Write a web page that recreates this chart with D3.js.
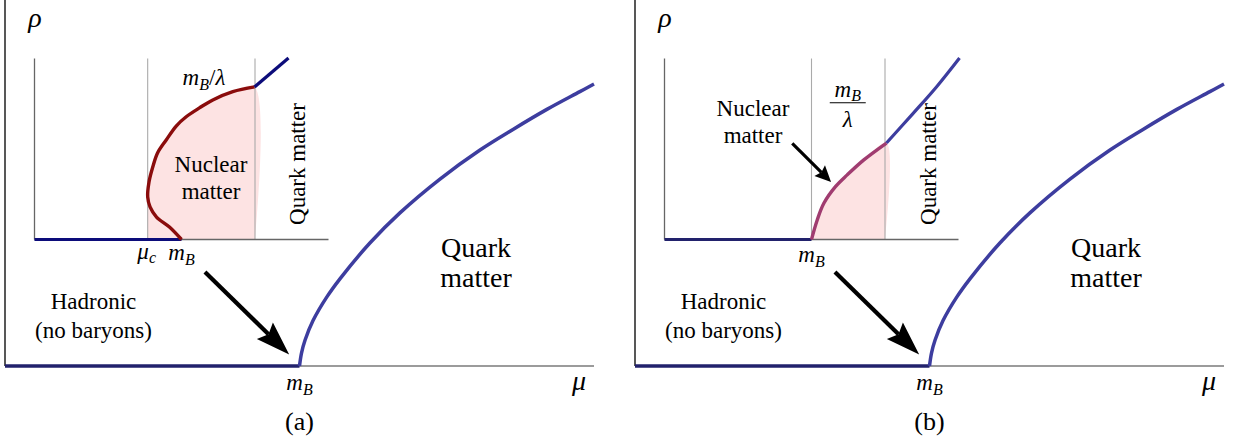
<!DOCTYPE html>
<html>
<head>
<meta charset="utf-8">
<script src="https://cdn.jsdelivr.net/npm/d3@7"></script>
<style>
  html, body { margin: 0; padding: 0; background: #fff; }
  svg { display: block; }
</style>
</head>
<body>
<svg id="chart" width="1233" height="439"></svg>
<script>
// Chemical potential mu is measured in units of the baryon mass m_B.
const MB = 1.0;          // onset of baryon density, m_B
const MU_C = 0.77;       // first-order nuclear onset mu_c (panel a)
const MU_LAMBDA = 1.5;   // m_B / lambda, end of the nuclear window

// Quark-matter density above m_B (main plots)
const quarkMu  = [1.0, 1.0068, 1.019, 1.046, 1.093, 1.138, 1.239, 1.341, 1.477, 1.613, 1.725, 1.840, 1.952, 2.0];
const quarkRho = [0.0, 0.046, 0.092, 0.161, 0.245, 0.310, 0.436, 0.543, 0.663, 0.766, 0.839, 0.910, 0.973, 1.0];

// Inset (a): back-bending nuclear branch, then quark branch
const nuclearAMu  = [1.0, 0.918, 0.830, 0.786, 0.770, 0.779, 0.805, 0.837, 0.896, 0.964, 1.032, 1.122, 1.213, 1.349, 1.497];
const nuclearARho = [0.0, 0.069, 0.124, 0.180, 0.235, 0.318, 0.402, 0.478, 0.550, 0.627, 0.678, 0.727, 0.771, 0.817, 0.843];
const quarkAMu  = [1.497, 1.728];
const quarkARho = [0.843, 1.003];

// Inset (b): monotonic nuclear branch, then quark branch
const nuclearBMu  = [1.0, 1.039, 1.084, 1.163, 1.243, 1.356, 1.510];
const nuclearBRho = [0.0, 0.108, 0.200, 0.292, 0.357, 0.440, 0.533];
const quarkBMu  = [1.510, 1.687, 1.850, 2.007];
const quarkBRho = [0.533, 0.693, 0.843, 1.003];

// Text
const panelLabels   = ["(a)", "(b)"];
const hadronicLines = ["Hadronic", "(no baryons)"];
const quarkLines    = ["Quark", "matter"];
const nuclearLines  = ["Nuclear", "matter"];
const insetQuark    = "Quark matter";

// Arrows: [mu0, rho0, mu1, rho1]
const mainArrow   = [0.679, 0.333, 0.965, 0.041];
const insetArrowB = [0.869, 0.531, 1.133, 0.318];

const zip = (a, b) => a.map((v, i) => [v, b[i]]);

const svg = d3.select("#chart");
const PANEL_DX = 630;
const SERIF = '"Liberation Serif"';

const NAVY_DARK = "#22226c";
const NAVY = "#0c0c7a";
const BLUE = "#3d3d9f";
const RED = "#8a0c0c";
const PURPLE = "#a03c70";
const PINK = "#fde3e3";

function txt(g) {
  return g.append("text").style("font-family", SERIF).attr("fill", "#000");
}

function mathM(t, size, subSize) {
  t.append("tspan").attr("font-style", "italic").text("m");
  t.append("tspan").attr("font-style", "italic").attr("font-size", subSize).attr("dy", size * 0.2).text("B");
}

function drawArrow(g, x, y, a, headLen, headHalf, shaftW) {
  const x0 = x(a[0]), y0 = y(a[1]), x1 = x(a[2]), y1 = y(a[3]);
  const dx = x1 - x0, dy = y1 - y0, L = Math.hypot(dx, dy);
  const ux = dx / L, uy = dy / L, px = -uy, py = ux;
  const bx = x1 - ux * headLen, by = y1 - uy * headLen;
  const nx = x1 - ux * headLen * 0.85, ny = y1 - uy * headLen * 0.85;
  g.append("line")
    .attr("x1", x0).attr("y1", y0).attr("x2", nx).attr("y2", ny)
    .attr("stroke", "#000").attr("stroke-width", shaftW);
  g.append("path")
    .attr("d", `M${x1},${y1} L${bx + px * headHalf},${by + py * headHalf} L${nx},${ny} L${bx - px * headHalf},${by - py * headHalf} Z`)
    .attr("fill", "#000");
}

function drawPanel(idx) {
  const g = svg.append("g").attr("transform", `translate(${idx * PANEL_DX},0)`);

  // ---- main axes ----
  const x = d3.scaleLinear().domain([0, 2]).range([5, 594]);
  const y = d3.scaleLinear().domain([0, 1]).range([366, 84]);

  g.append("line").attr("x1", x(0)).attr("x2", x(2)).attr("y1", y(0)).attr("y2", y(0))
    .attr("stroke", "#7a7a7a").attr("stroke-width", 1.5);
  g.append("line").attr("x1", x(0)).attr("x2", x(0)).attr("y1", y(0)).attr("y2", y(1.3))
    .attr("stroke", "#111").attr("stroke-width", 1.4);

  // hadronic phase: zero baryon density up to m_B
  g.append("line").attr("x1", x(0)).attr("x2", x(MB)).attr("y1", y(0)).attr("y2", y(0))
    .attr("stroke", NAVY_DARK).attr("stroke-width", 3.5);

  const mainLine = d3.line().x(d => x(d[0])).y(d => y(d[1])).curve(d3.curveCatmullRom.alpha(0.5));
  g.append("path").attr("d", mainLine(zip(quarkMu, quarkRho)))
    .attr("fill", "none").attr("stroke", BLUE).attr("stroke-width", 3.5);

  // main labels
  txt(g).attr("x", 35).attr("y", 27).attr("text-anchor", "middle")
    .attr("font-size", 28).attr("font-style", "italic").text("ρ");
  txt(g).attr("x", x(2) - 15).attr("y", 390).attr("text-anchor", "middle")
    .attr("font-size", 28).attr("font-style", "italic").text("μ");
  const mbT = txt(g).attr("x", x(MB)).attr("y", 390).attr("text-anchor", "middle").attr("font-size", 23);
  mathM(mbT, 23, 16);
  txt(g).attr("x", x(MB)).attr("y", 430).attr("text-anchor", "middle")
    .attr("font-size", 26).text(panelLabels[idx]);

  hadronicLines.forEach((d, i) => {
    txt(g).attr("x", 93.5).attr("y", 309 + i * 28.5).attr("text-anchor", "middle")
      .attr("font-size", 23).text(d);
  });
  quarkLines.forEach((d, i) => {
    txt(g).attr("x", 476).attr("y", 256.5 + i * 30).attr("text-anchor", "middle")
      .attr("font-size", 28).text(d);
  });

  drawArrow(g, x, y, mainArrow, 34, 11.5, 4.2);

  // ---- inset ----
  const xi = d3.scaleLinear().domain([0, 2]).range([34.5, 328.5]);
  const yi = d3.scaleLinear().domain([0, 1]).range([239.5, 58.5]);
  const insetLine = d3.line().x(d => xi(d[0])).y(d => yi(d[1])).curve(d3.curveCatmullRom.alpha(0.5));

  const nucMu  = idx === 0 ? nuclearAMu : nuclearBMu;
  const nucRho = idx === 0 ? nuclearARho : nuclearBRho;
  const qMu  = idx === 0 ? quarkAMu : quarkBMu;
  const qRho = idx === 0 ? quarkARho : quarkBRho;
  const onset = idx === 0 ? MU_C : MB;

  // nuclear-matter region
  let pts = zip(nucMu, nucRho);
  if (idx === 0) {
    const iMin = d3.minIndex(nucMu);
    pts = [[onset, 0]].concat(pts.slice(iMin));
  }
  pts = pts.concat([[MU_LAMBDA, 0]]);
  g.append("path").attr("d", insetLine(pts)).attr("fill", PINK).attr("stroke", "none");

  // guide lines at onset and m_B/lambda
  [onset, MU_LAMBDA].forEach(m => {
    g.append("line").attr("x1", xi(m)).attr("x2", xi(m)).attr("y1", yi(0)).attr("y2", yi(1))
      .attr("stroke", "#aaaaaa").attr("stroke-width", 1.1);
  });

  // inset axes
  g.append("line").attr("x1", xi(0)).attr("x2", xi(2)).attr("y1", yi(0)).attr("y2", yi(0))
    .attr("stroke", "#666").attr("stroke-width", 1.3);
  g.append("line").attr("x1", xi(0)).attr("x2", xi(0)).attr("y1", yi(0)).attr("y2", yi(1))
    .attr("stroke", "#666").attr("stroke-width", 1.3);

  g.append("line").attr("x1", xi(0)).attr("x2", xi(MB)).attr("y1", yi(0)).attr("y2", yi(0))
    .attr("stroke", idx === 0 ? NAVY : NAVY_DARK).attr("stroke-width", 3.2);

  g.append("path").attr("d", insetLine(zip(nucMu, nucRho)))
    .attr("fill", "none").attr("stroke", idx === 0 ? RED : PURPLE).attr("stroke-width", 3.4);
  g.append("path").attr("d", insetLine(zip(qMu, qRho)))
    .attr("fill", "none").attr("stroke", idx === 0 ? NAVY : BLUE).attr("stroke-width", 3.2);

  // inset text
  txt(g).attr("transform", `translate(${idx === 0 ? 305 : 306},164) rotate(-90)`).attr("text-anchor", "middle")
    .attr("font-size", 23).text(insetQuark);

  if (idx === 0) {
    const muc = txt(g).attr("x", xi(MU_C) - 1).attr("y", 259).attr("text-anchor", "middle").attr("font-size", 23);
    muc.append("tspan").attr("font-style", "italic").text("μ");
    muc.append("tspan").attr("font-style", "italic").attr("font-size", 16).attr("dy", 4).text("c");
    const mb = txt(g).attr("x", xi(MB)).attr("y", 260).attr("text-anchor", "middle").attr("font-size", 23);
    mathM(mb, 23, 16);
    const lam = txt(g).attr("x", 204).attr("y", 85).attr("text-anchor", "middle").attr("font-size", 23);
    mathM(lam, 23, 16);
    lam.append("tspan").attr("dy", -4.6).attr("font-size", 23).text("/");
    lam.append("tspan").attr("font-style", "italic").attr("font-size", 23).text("λ");
    nuclearLines.forEach((d, i) => {
      txt(g).attr("x", 211).attr("y", 171.5 + i * 27.5).attr("text-anchor", "middle")
        .attr("font-size", 23).text(d);
    });
  } else {
    const mb = txt(g).attr("x", xi(MB)).attr("y", 262).attr("text-anchor", "middle").attr("font-size", 23);
    mathM(mb, 23, 16);
    const cx = (xi(MB) + xi(MU_LAMBDA)) / 2 - 0.5;
    const num = txt(g).attr("x", cx).attr("y", 96.5).attr("text-anchor", "middle").attr("font-size", 23);
    mathM(num, 23, 16);
    g.append("line").attr("x1", cx - 18).attr("x2", cx + 18).attr("y1", 102.7).attr("y2", 102.7)
      .attr("stroke", "#000").attr("stroke-width", 1.1);
    txt(g).attr("x", cx).attr("y", 127).attr("text-anchor", "middle").attr("font-size", 23)
      .attr("font-style", "italic").text("λ");
    nuclearLines.forEach((d, i) => {
      txt(g).attr("x", 123).attr("y", 116 + i * 27).attr("text-anchor", "middle")
        .attr("font-size", 23).text(d);
    });
    drawArrow(g, xi, yi, insetArrowB, 16, 7.5, 3.2);
  }
}

drawPanel(0);
drawPanel(1);
</script>
</body>
</html>
